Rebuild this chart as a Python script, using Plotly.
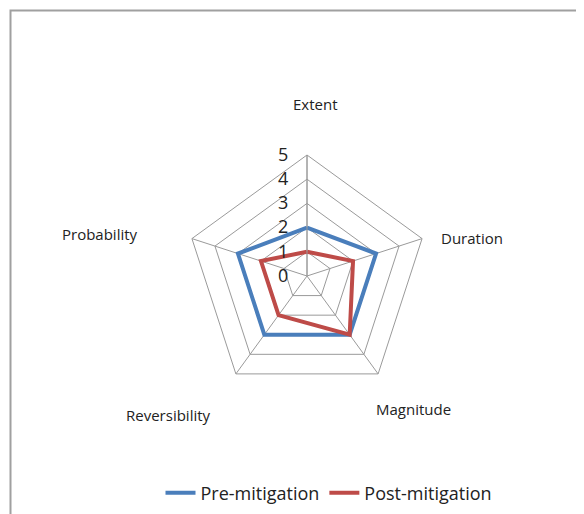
import plotly.graph_objects as go

categories = ["Extent", "Duration", "Magnitude", "Reversibility", "Probability"]
pre_mitigation = [2, 3, 3, 3, 3]
post_mitigation = [1, 2, 3, 2, 2]
radial_ticks = [0, 1, 2, 3, 4, 5]

# page body has an 8px margin; work in screen pixels and convert
OFF = 8
W, H = 584 - OFF, 514 - OFF
cx, cy, R = 307, 276, 121

def px(x):
    return (x - OFF) / W

def py(y):
    return 1 - (y - OFF) / H

def close(v):
    return list(v) + [v[0]]

fig = go.Figure()
fig.add_trace(go.Scatterpolar(
    r=close(pre_mitigation), theta=close(categories), mode="lines",
    name="Pre-mitigation", line=dict(color="#4A7EBB", width=4)))
fig.add_trace(go.Scatterpolar(
    r=close(post_mitigation), theta=close(categories), mode="lines",
    name="Post-mitigation", line=dict(color="#BE4B48", width=4)))

label_pos = {
    "Extent": (315, 104),
    "Duration": (472, 238),
    "Magnitude": (413, 409),
    "Reversibility": (168, 415),
    "Probability": (100, 234),
}
annotations = []
for c in categories:
    x, y = label_pos[c]
    annotations.append(dict(x=px(x), y=py(y), xref="paper", yref="paper",
                            text=c, showarrow=False,
                            font=dict(size=15, color="#222"),
                            xanchor="center", yanchor="middle"))

fig.update_layout(
    width=W, height=H,
    margin=dict(l=0, r=0, t=0, b=0),
    paper_bgcolor="white",
    font=dict(family="Open Sans, Noto Sans, sans-serif", color="#222"),
    polar=dict(
        domain=dict(x=[px(cx - R), px(cx + R)],
                    y=[py(cy + R), py(cy - R)]),
        gridshape="linear",
        bgcolor="white",
        angularaxis=dict(rotation=90, direction="clockwise",
                         showticklabels=False, ticks="",
                         gridcolor="#9a9a9a", gridwidth=1,
                         linecolor="#9a9a9a", linewidth=1),
        radialaxis=dict(range=[0, 5], tickvals=radial_ticks,
                        angle=90, tickangle=90, side="counterclockwise",
                        ticks="outside", ticklen=12,
                        tickcolor="rgba(0,0,0,0)",
                        showline=True, linecolor="#9a9a9a",
                        gridcolor="#9a9a9a", gridwidth=1,
                        tickfont=dict(size=18, color="#222")),
    ),
    legend=dict(orientation="h", x=px(329), y=py(493),
                xanchor="center", yanchor="middle",
                font=dict(size=18, color="#222"),
                bgcolor="rgba(0,0,0,0)"),
    annotations=annotations,
    shapes=[dict(type="rect", xref="paper", yref="paper",
                 x0=px(10.5), x1=1.2, y0=-0.2, y1=py(10.5),
                 line=dict(color="#a0a0a0", width=2))],
)

fig.write_html("out.html")
